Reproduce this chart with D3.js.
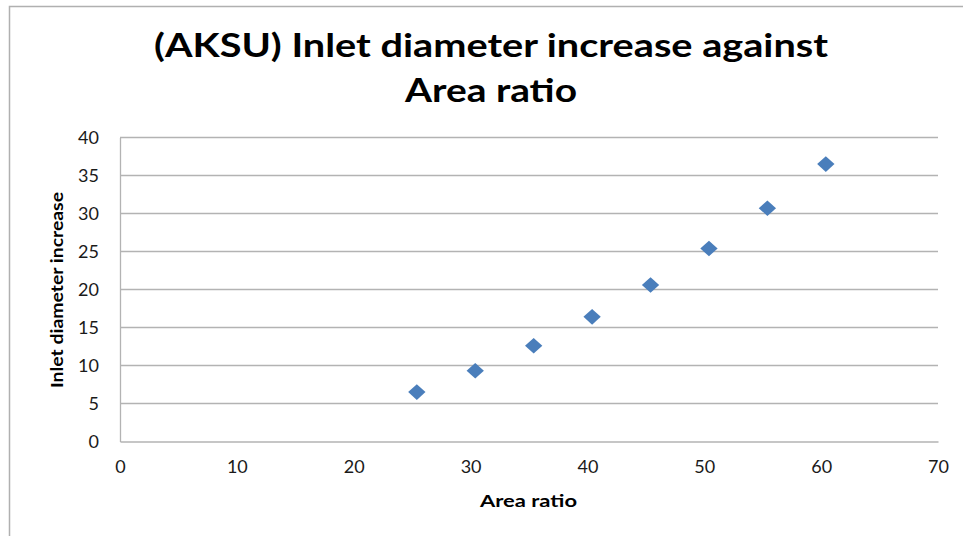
<!DOCTYPE html>
<html>
<head>
<meta charset="utf-8">
<script src="https://cdn.jsdelivr.net/npm/d3@7"></script>
<style>
html,body{margin:0;padding:0;background:#fff;}
svg{display:block;}
text{font-family:Lato,"Open Sans",sans-serif;}
</style>
</head>
<body>
<svg id="chart" width="963" height="536"></svg>
<script>
const titleLines = ["(AKSU) Inlet diameter increase against", "Area ratio"];
const xLabel = "Area ratio";
const yLabel = "Inlet diameter increase";
const areaRatio = [25.4, 30.4, 35.4, 40.4, 45.4, 50.4, 55.4, 60.4];
const diameterIncrease = [6.5, 9.3, 12.6, 16.4, 20.6, 25.4, 30.7, 36.5];
const xTicks = [0, 10, 20, 30, 40, 50, 60, 70];
const yTicks = [0, 5, 10, 15, 20, 25, 30, 35, 40];

const svg = d3.select("#chart");
const W = 963, H = 536;
const plot = {left: 120, right: 938, top: 137.5, bottom: 441.5};

// outer chart border (left and top edges visible)
svg.append("path")
  .attr("d", `M9.5,${H} L9.5,6.5 L${W},6.5`)
  .attr("fill", "none").attr("stroke", "#b0b0b0").attr("stroke-width", 1.5);

const x = d3.scaleLinear().domain([0, 70]).range([plot.left, plot.right]);
const y = d3.scaleLinear().domain([0, 40]).range([plot.bottom, plot.top]);

// gridlines
svg.append("g").selectAll("line").data(yTicks.filter(d => d > 0)).join("line")
  .attr("x1", plot.left).attr("x2", plot.right)
  .attr("y1", d => y(d)).attr("y2", d => y(d))
  .attr("stroke", "#b3b3b3").attr("stroke-width", 1.3);

// axes
const yAxis = d3.axisLeft(y).tickValues(yTicks).tickSize(0).tickPadding(21);
const gy = svg.append("g").attr("transform", `translate(${plot.left},0)`).call(yAxis);
gy.select(".domain").attr("stroke", "#b3b3b3").attr("stroke-width", 1.3);
gy.selectAll("text").attr("font-size", 18).attr("fill", "#1a1a1a").attr("font-family", "Lato, sans-serif");

const xAxis = d3.axisBottom(x).tickValues(xTicks).tickSize(0).tickPadding(19);
const gx = svg.append("g").attr("transform", `translate(0,${plot.bottom})`).call(xAxis);
gx.select(".domain").attr("stroke", "#b3b3b3").attr("stroke-width", 1.3);
gx.selectAll("text").attr("font-size", 18).attr("fill", "#1a1a1a").attr("font-family", "Lato, sans-serif");

// points
const sym = d3.symbol().type(d3.symbolSquare).size(150);
svg.append("g").selectAll("path").data(areaRatio.map((a, i) => [a, diameterIncrease[i]])).join("path")
  .attr("d", sym)
  .attr("transform", d => `translate(${x(d[0])},${y(d[1])}) scale(1,0.9) rotate(45)`)
  .attr("fill", "#4a7ebb");

// title
const tl = [ {t: titleLines[0], y: 57, w: 674}, {t: titleLines[1], y: 102, w: 172} ];
svg.append("g").selectAll("text").data(tl).join("text")
  .attr("x", 491).attr("y", d => d.y)
  .attr("text-anchor", "middle")
  .attr("font-size", 32.5).attr("font-weight", "bold").attr("fill", "#000")
  .attr("textLength", d => d.w).attr("lengthAdjust", "spacingAndGlyphs")
  .text(d => d.t);

// axis titles
svg.append("text").attr("x", 528.5).attr("y", 507).attr("text-anchor", "middle")
  .attr("font-size", 17).attr("font-weight", "bold").attr("fill", "#000")
  .attr("textLength", 97).attr("lengthAdjust", "spacingAndGlyphs")
  .text(xLabel);

svg.append("text").attr("transform", "translate(63,290) rotate(-90)").attr("text-anchor", "middle")
  .attr("font-size", 17).attr("font-weight", "bold").attr("fill", "#000")
  .attr("textLength", 196).attr("lengthAdjust", "spacingAndGlyphs")
  .text(yLabel);
</script>
</body>
</html>
